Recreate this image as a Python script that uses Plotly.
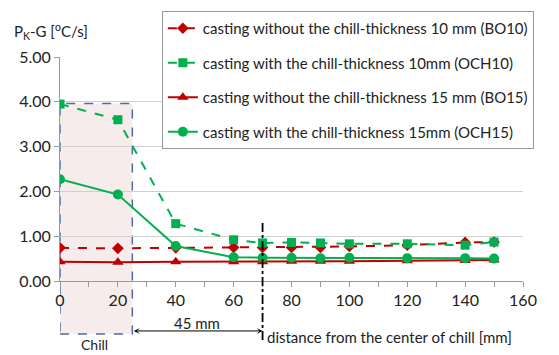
import plotly.graph_objects as go

distance = [0, 20, 40, 60, 70, 80, 90, 100, 120, 140, 150]
bo10 = [0.74, 0.73, 0.74, 0.75, 0.75, 0.75, 0.75, 0.77, 0.80, 0.86, 0.87]
och10 = [3.95, 3.60, 1.28, 0.92, 0.85, 0.86, 0.85, 0.83, 0.83, 0.80, 0.87]
bo15 = [0.43, 0.42, 0.43, 0.43, 0.43, 0.44, 0.44, 0.44, 0.45, 0.46, 0.47]
och15 = [2.27, 1.93, 0.78, 0.53, 0.52, 0.52, 0.51, 0.52, 0.51, 0.51, 0.50]

names = [
    "casting without the chill-thickness 10 mm (BO10)",
    "casting with the chill-thickness 10mm (OCH10)",
    "casting without the chill-thickness 15 mm (BO15)",
    "casting with the chill-thickness 15mm (OCH15)",
]
x_ticks = [0, 20, 40, 60, 80, 100, 120, 140, 160]
y_ticks = [0, 1, 2, 3, 4, 5]
y_tick_text = ["0.00", "1.00", "2.00", "3.00", "4.00", "5.00"]

chill_width = 25
chill_top = 3.96
line_x = 70
line_top = 1.35
YMAX = 5
FONT = "Lato"

RED = "#C00000"
GREEN = "#00B050"

fig = go.Figure()
series = [
    (bo10, names[0], RED, "diamond", "dash", 9),
    (och10, names[1], GREEN, "square", "dash", 9),
    (bo15, names[2], RED, "triangle-up", "solid", 10),
    (och15, names[3], GREEN, "circle", "solid", 10),
]
for i, (vals, nm, col, sym, dash, ms) in enumerate(series):
    fig.add_trace(go.Scatter(
        x=distance, y=vals, name=nm, mode="lines+markers",
        line=dict(color=col, width=2, dash=dash),
        marker=dict(symbol=sym, size=ms, color=col),
        legendgroup=f"g{i}",
    ))

# Chill box
fig.add_shape(type="rect", xref="x", yref="paper", x0=0, x1=chill_width,
              y0=-0.237, y1=chill_top / YMAX,
              fillcolor="rgba(240,220,220,0.55)",
              line=dict(color="#4F6D9A", width=1.5, dash="dash"), layer="below")
# dash-dot vertical line
fig.add_shape(type="line", xref="x", yref="paper", x0=line_x, x1=line_x,
              y0=-0.263, y1=line_top / YMAX,
              line=dict(color="black", width=1.8, dash="dashdot"))
# 45 mm arrow
fig.add_annotation(x=line_x, y=-0.223, ax=chill_width, ay=0,
                   xref="x", yref="paper", axref="x", ayref="pixel",
                   text="", showarrow=True, arrowhead=3, startarrowhead=3,
                   arrowside="end+start", arrowsize=1, arrowwidth=1, arrowcolor="black")
fig.add_annotation(x=(chill_width + line_x) / 2, y=-0.1875, xref="x", yref="paper",
                   yanchor="middle", text="45 mm", showarrow=False,
                   font=dict(size=15, color="#222"))
fig.add_annotation(x=12, y=-0.285, xref="x", yref="paper", yanchor="middle",
                   text="Chill", showarrow=False, font=dict(size=14, color="#222"))
fig.add_annotation(x=0.443, y=-0.25, xref="paper", yref="paper", xanchor="left",
                   yanchor="middle",
                   text="distance from the center of chill [mm]",
                   showarrow=False, font=dict(size=15, color="#222"))
fig.add_annotation(x=-0.104, y=1.115, xref="paper", yref="paper", xanchor="left",
                   yanchor="middle",
                   text="P<sub>K</sub>-G [<sup>o</sup>C/s]",
                   showarrow=False, font=dict(size=15, color="#222"))

fig.update_layout(
    width=559, height=355,
    margin=dict(l=60, r=36, t=56, b=74),
    plot_bgcolor="white", paper_bgcolor="white",
    font=dict(family=FONT, size=16, color="#222"),
    legend=dict(x=0.22, y=1.2, xanchor="left", yanchor="top",
                bgcolor="white", bordercolor="#999", borderwidth=1,
                font=dict(size=15), tracegroupgap=12),
    showlegend=True,
)
fig.update_xaxes(range=[0, 160], tickvals=x_ticks, showgrid=False, zeroline=False,
                 showline=True, linecolor="#999", linewidth=1,
                 ticks="outside", ticklen=5, tickcolor="#999",
                 minor=dict(dtick=10, ticks="outside", ticklen=5, tickcolor="#999"))
fig.update_yaxes(range=[0, YMAX], tickvals=y_ticks, ticktext=y_tick_text,
                 showgrid=True, gridcolor="#D0D0D0", zeroline=False,
                 showline=True, linecolor="#999", linewidth=1,
                 ticks="outside", ticklen=5, tickcolor="#999")

fig.write_html("out.html", config={"displayModeBar": False},
               post_script="document.body.style.margin='0';")
